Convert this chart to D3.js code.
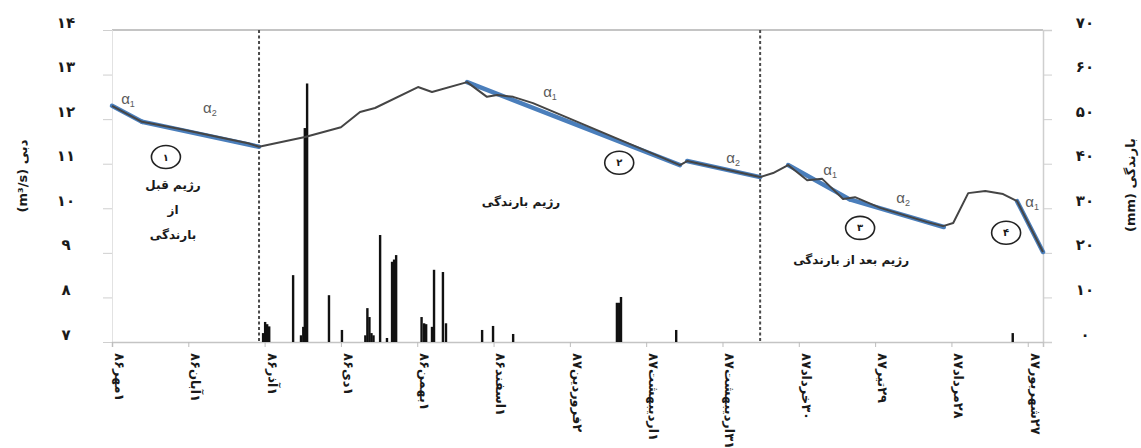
<!DOCTYPE html>
<html lang="fa">
<head>
<meta charset="utf-8">
<script src="https://cdn.jsdelivr.net/npm/d3@7"></script>
<style>
  html, body { margin: 0; padding: 0; background: #fff; }
  svg { display: block; }
  .fa { font-family: "DejaVu Sans", sans-serif; font-weight: bold; fill: #1a1a1a; }
</style>
</head>
<body>
<svg id="chart" width="1141" height="448"></svg>
<script>
// Day offsets are counted from 1 Mehr 1386.
const dateTickDays = [0, 30, 60, 90, 120, 150, 180, 210, 240, 270, 300, 330, 360];
const dateTickLabels = ["۱مهر۸۶", "۱آبان۸۶", "۱آذر۸۶", "۱دی۸۶", "۱بهمن۸۶", "۱اسفند۸۶",
  "۲فروردین۸۷", "۱اردیبهشت۸۷", "۳۱اردیبهشت۸۷", "۳۰خرداد۸۷", "۲۹تیر۸۷", "۲۸مرداد۸۷", "۲۷شهریور۸۷"];

const flowTickValues = [7, 8, 9, 10, 11, 12, 13, 14];
const flowTickLabels = ["۷", "۸", "۹", "۱۰", "۱۱", "۱۲", "۱۳", "۱۴"];
const rainTickValues = [0, 10, 20, 30, 40, 50, 60, 70];
const rainTickLabels = ["۰", "۱۰", "۲۰", "۳۰", "۴۰", "۵۰", "۶۰", "۷۰"];

// Observed discharge (m3/s)
const flowDays = [0, 11.8, 14.9, 26.7, 53.5, 57.8, 75.9, 90, 97.5, 103.4, 120.3, 125.8, 139.6,
  147.4, 151.4, 157.7, 165.5, 223.3, 226.1, 254.8, 259.9, 265.8, 273.3, 279.2, 287.4, 292.1,
  302, 320.5, 326.7, 330.7, 336.6, 343.3, 350.3, 355.8, 366];
const flowValues = [12.30, 11.94, 11.91, 11.78, 11.46, 11.38, 11.60, 11.82, 12.16, 12.25, 12.72,
  12.61, 12.83, 12.50, 12.54, 12.50, 12.36, 10.97, 11.06, 10.70, 10.79, 10.97, 10.63, 10.66,
  10.21, 10.25, 10.01, 9.69, 9.60, 9.67, 10.34, 10.39, 10.32, 10.16, 9.02];

// Fitted recession segments (alpha1 / alpha2)
const fitStartDays = [0, 11.8, 139.6, 226.1, 265.8, 290, 355.8];
const fitStartValues = [12.30, 11.94, 12.83, 11.06, 10.97, 10.20, 10.16];
const fitEndDays = [11.8, 57.8, 223.3, 254.8, 290, 327, 366];
const fitEndValues = [11.94, 11.38, 10.97, 10.70, 10.20, 9.58, 9.02];

// Daily rainfall (mm)
const rainDays = [59.4, 60.2, 61, 61.8, 71.2, 74.3, 75.2, 75.8, 76.7, 85.3, 90.4, 99.6, 100.4,
  101.2, 102, 102.8, 105.4, 108.1, 110.1, 110.9, 111.7, 121.7, 122.7, 123.5, 125.8, 126.6,
  130.1, 131.3, 145.5, 149.8, 157.7, 198.5, 199.4, 200.1, 221.8, 354.1];
const rainValues = [2.0, 4.5, 4.0, 3.5, 15.0, 1.5, 3.4, 48, 58, 10.5, 2.7, 1.5, 7.6, 5.6, 2.0,
  1.5, 24, 0.9, 18, 18.5, 19.5, 5.6, 4.2, 4.0, 3.4, 16.2, 15.7, 4.2, 2.7, 3.6, 1.8, 8.8, 8.8,
  10.1, 2.7, 2.0];

// Regime boundaries
const regimeBounds = [57.8, 254.8];

// Recession coefficient labels
const alphaNames = ["1", "2", "1", "2", "1", "2", "1"];
const alphaDays = [6.3, 38.5, 172.2, 244.2, 282.3, 311, 361.7];
const alphaValues = [12.45, 12.25, 12.61, 11.13, 10.86, 10.23, 10.14];

// Regime numbers
const regimeNumbers = ["۱", "۲", "۳", "۴"];
const regimeNumberDays = [21.2, 199.4, 294.1, 351.5];
const regimeNumberValues = [11.15, 11.02, 9.56, 9.45];

const svg = d3.select("#chart");
const plot = { left: 112, right: 1043, top: 30, bottom: 342 };

const x = d3.scaleLinear().domain([0, 366]).range([plot.left, plot.right]);
const yQ = d3.scaleLinear().domain([7, 14]).range([plot.bottom, plot.top]);
const yR = d3.scaleLinear().domain([0, 70]).range([plot.bottom, plot.top]);

// frame
svg.append("line").attr("x1", plot.left).attr("x2", plot.right).attr("y1", plot.top).attr("y2", plot.top)
  .attr("stroke", "#c4c4c4").attr("stroke-width", 2);

// left axis
const gL = svg.append("g").attr("transform", `translate(${plot.left},0)`)
  .call(d3.axisLeft(yQ).tickValues(flowTickValues).tickSize(9)
    .tickFormat((d, i) => flowTickLabels[i]));
gL.select(".domain").attr("stroke", "#e2e2e2");
gL.selectAll(".tick line").attr("stroke", "#cfcfcf");
gL.selectAll(".tick text").attr("class", "fa").attr("font-size", 15)
  .attr("text-anchor", "middle").attr("x", -46).attr("dy", "-0.2em");

// right axis
const gR = svg.append("g").attr("transform", `translate(${plot.right},0)`)
  .call(d3.axisRight(yR).tickValues(rainTickValues).tickSize(9)
    .tickFormat((d, i) => rainTickLabels[i]));
gR.select(".domain").attr("stroke", "#cfcfcf").attr("stroke-width", 1.5);
gR.selectAll(".tick line").attr("stroke", "#cfcfcf");
gR.selectAll(".tick text").attr("class", "fa").attr("font-size", 15)
  .attr("text-anchor", "middle").attr("x", 42).attr("dy", "-0.2em");

// bottom axis
const gB = svg.append("g").attr("transform", `translate(0,${plot.bottom})`)
  .call(d3.axisBottom(x).tickValues(dateTickDays).tickSize(5)
    .tickFormat((d, i) => dateTickLabels[i]));
gB.select(".domain").attr("stroke", "#c4c4c4").attr("stroke-width", 1.5);
gB.selectAll(".tick line").attr("stroke", "#bdbdbd");
gB.selectAll(".tick text").attr("class", "fa").attr("font-size", 13)
  .attr("direction", "rtl").attr("text-anchor", "middle").attr("y", 0).attr("dy", "0.35em")
  .each(function () {
    const len = this.getComputedTextLength();
    d3.select(this).attr("transform", `translate(7,${11 + len / 2}) rotate(90)`);
  });

// regime boundaries
svg.selectAll(".bound").data(regimeBounds).join("line")
  .attr("x1", d => x(d)).attr("x2", d => x(d)).attr("y1", plot.top).attr("y2", plot.bottom)
  .attr("stroke", "#4a4a4a").attr("stroke-width", 2).attr("stroke-dasharray", "3,2.5");

// rainfall bars
const rain = rainDays.map((d, i) => ({ d, v: rainValues[i] }));
svg.selectAll(".rain").data(rain).join("rect")
  .attr("x", r => x(r.d) - 1.2).attr("width", 2.4)
  .attr("y", r => yR(r.v)).attr("height", r => yR(0) - yR(r.v))
  .attr("fill", "#111");

// fitted recession lines
const fits = fitStartDays.map((d, i) => ({ d0: d, q0: fitStartValues[i], d1: fitEndDays[i], q1: fitEndValues[i] }));
svg.selectAll(".fit").data(fits).join("line")
  .attr("x1", f => x(f.d0)).attr("y1", f => yQ(f.q0))
  .attr("x2", f => x(f.d1)).attr("y2", f => yQ(f.q1))
  .attr("stroke", "#4a7ebb").attr("stroke-width", 4.5).attr("stroke-linecap", "round");

// observed discharge
const flow = flowDays.map((d, i) => [d, flowValues[i]]);
svg.append("path").datum(flow)
  .attr("d", d3.line().x(p => x(p[0])).y(p => yQ(p[1])))
  .attr("fill", "none").attr("stroke", "#454545").attr("stroke-width", 2)
  .attr("stroke-linejoin", "round");

// alpha labels
alphaNames.forEach((n, i) => {
  const t = svg.append("text").attr("x", x(alphaDays[i])).attr("y", yQ(alphaValues[i]) + 5)
    .attr("text-anchor", "middle").attr("fill", "#5a5a5a")
    .attr("font-family", "Liberation Sans, Arial, sans-serif").attr("font-size", 15);
  t.append("tspan").text("α");
  t.append("tspan").attr("font-size", 9).attr("dy", 3).text(n);
});

// regime number circles
regimeNumbers.forEach((n, i) => {
  const cx = x(regimeNumberDays[i]), cy = yQ(regimeNumberValues[i]);
  svg.append("ellipse").attr("cx", cx).attr("cy", cy).attr("rx", 14.5).attr("ry", 11.5)
    .attr("fill", "none").attr("stroke", "#222").attr("stroke-width", 1.6);
  svg.append("text").attr("class", "fa").attr("x", cx).attr("y", cy).attr("dy", "0.35em")
    .attr("text-anchor", "middle").attr("font-size", 10).text(n);
});

// regime names
function faText(tx, ty, s, size) {
  svg.append("text").attr("class", "fa").attr("x", tx).attr("y", ty).attr("dy", "0.35em")
    .attr("direction", "rtl").attr("text-anchor", "middle").attr("font-size", size).text(s);
}
faText(x(24), yQ(10.52), "رژیم قبل", 12);
faText(x(24), yQ(9.96), "از", 12);
faText(x(24), yQ(9.40), "بارندگی", 12);
faText(x(160.8), yQ(10.15), "رژیم بارندگی", 12);
faText(x(290.6), yQ(8.85), "رژیم بعد  از بارندگی", 12);

// axis titles
svg.append("text").attr("class", "fa").attr("font-size", 13).attr("direction", "rtl")
  .attr("text-anchor", "middle").attr("transform", "translate(22,176) rotate(-90)")
  .attr("dy", "0.35em").text("دبی (m³/s)");
svg.append("text").attr("class", "fa").attr("font-size", 13).attr("direction", "rtl")
  .attr("text-anchor", "middle").attr("transform", "translate(1130,185) rotate(-90)")
  .attr("dy", "0.35em").text("بارندگی (mm)");
</script>
</body>
</html>
